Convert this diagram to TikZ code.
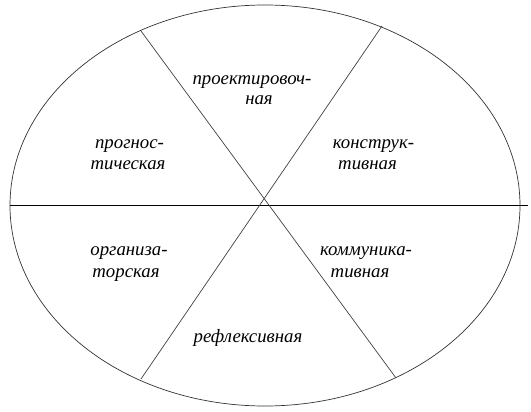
\documentclass[tikz,border=0pt]{standalone}
\usepackage{fontspec}
\setmainfont{Liberation Serif}[ItalicFont={Liberation Serif Italic}]
\begin{document}
\begin{tikzpicture}[x=1pt,y=-1pt,
  lbl/.style={font=\itshape\fontsize{18.8}{21}\selectfont, anchor=base, inner sep=0pt},
  rim/.style={draw=black!80, line width=0.7pt},
  spoke/.style={draw=black!75, line width=0.7pt},
  axis/.style={draw=black, line width=1pt}]
\useasboundingbox (0,0) rectangle (531,412);
\coordinate (c) at (265,205.5);
\draw[rim] (c) ellipse [x radius=255pt, y radius=200.5pt];
\coordinate (hl) at (10,205);
\coordinate (hr) at (528,205);
\coordinate (a1) at (141,31);
\coordinate (a2) at (396,378);
\coordinate (b1) at (382,26);
\coordinate (b2) at (141,379);
\draw[axis] (hl) -- (hr);
\draw[spoke] (a1) -- (a2);
\draw[spoke] (b1) -- (b2);
\node[lbl] (p1) at (252,84.5) {проектировоч-};
\node[lbl] (p2) at (259,105) {ная};
\node[lbl] (q1) at (129.5,148.5) {прогнос-};
\node[lbl] (q2) at (128,169.5) {тическая};
\node[lbl] (k1) at (373.5,148.5) {конструк-};
\node[lbl] (k2) at (367.5,169.5) {тивная};
\node[lbl] (o1) at (129,255.5) {организа-};
\node[lbl] (o2) at (126,277.5) {торская};
\node[lbl] (m1) at (366,255.5) {коммуника-};
\node[lbl] (m2) at (360,277.5) {тивная};
\node[lbl] (r1) at (248,342.5) {рефлексивная};
\end{tikzpicture}
\end{document}
